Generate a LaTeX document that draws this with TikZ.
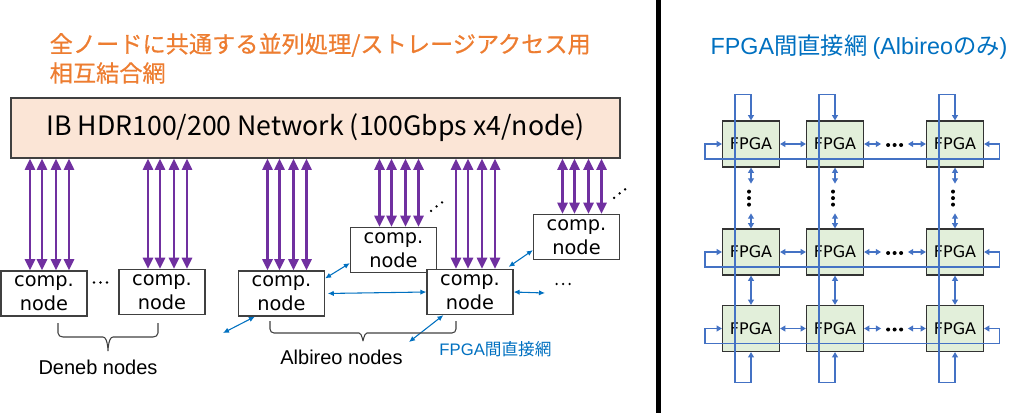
\documentclass[tikz,border=0pt]{standalone}
\usepackage{fontspec}
\setmainfont{Noto Sans CJK JP}
\newfontfamily\arialfont{Liberation Sans}
\newfontfamily\compfont{DejaVu Sans}
\newfontfamily\titlefont{Noto Sans CJK JP}[FakeBold=0.6]
\usetikzlibrary{arrows.meta, calc}
\definecolor{ibpurple}{HTML}{7030A0}
\definecolor{ibfill}{HTML}{FBE5D6}
\definecolor{titleorange}{HTML}{ED7D31}
\definecolor{fpgablue}{HTML}{0070C0}
\definecolor{torusblue}{HTML}{4472C4}
\definecolor{fpgafill}{HTML}{E2EFDA}
\definecolor{boxgray}{HTML}{404040}
\tikzstyle{ibbox} = [draw=boxgray, fill=ibfill, line width=0.9pt, minimum width=456.75pt, minimum height=45pt, inner sep=0pt, font=\fontsize{20}{24}\selectfont]
\tikzstyle{comp} = [draw=boxgray, fill=white, line width=0.9pt, minimum width=64.5pt, minimum height=33.75pt, inner sep=0pt, align=center, font=\compfont\fontsize{14.5}{18}\selectfont]
\tikzstyle{fpga} = [draw=black!80, fill=fpgafill, line width=0.9pt, minimum width=42.75pt, minimum height=34.5pt, inner sep=0pt, font=\compfont\fontsize{12}{14}\selectfont]
\tikzstyle{ibarrow} = [ibpurple, line width=2.2pt, {Triangle[length=8.5pt,width=7.5pt]}-{Triangle[length=8.5pt,width=7.5pt]}]
\tikzstyle{link} = [fpgablue, line width=0.8pt, {Latex[length=4.5pt,width=4pt]}-{Latex[length=4.5pt,width=4pt]}]
\tikzstyle{torus} = [torusblue, line width=0.9pt, {Triangle[length=4pt,width=4.5pt]}-{Triangle[length=4pt,width=4.5pt]}]
\tikzstyle{brace} = [boxgray, line width=0.8pt]

\begin{document}
\begin{tikzpicture}[x=0.75pt, y=-0.75pt]
        \useasboundingbox (0,0) rectangle (1024,419);

        % left: IB network
        \node at (45,45) [anchor=west, titleorange, font=\titlefont\fontsize{17.4}{21}\selectfont](title1) {全ノードに共通する並列処理/ストレージアクセス用};
        \node at (45,73) [anchor=west, titleorange, font=\titlefont\fontsize{17.4}{21}\selectfont](title2) {相互結合網};
        \node at (315.5,128) [ibbox](ib) {IB HDR100/200 Network (100Gbps x4/node)};

        \node at (44,293.5) [comp](d1) {comp.\\node};
        \node at (162,292) [comp](d2) {comp.\\node};
        \node at (281.5,293.5) [comp](a1) {comp.\\node};
        \node at (393.5,250) [comp](a2) {comp.\\node};
        \node at (470,292) [comp](a3) {comp.\\node};
        \node at (576.5,237) [comp](a4) {comp.\\node};

        \foreach \n in {d1,d2,a1,a2,a3,a4}
            \foreach \dx in {-14,-2,12,25} {
                \coordinate (t) at ($(\n.north)+(\dx,0)$);
                \draw[ibarrow] (t |- ib.south) -- (t);
            }

        % dots
        \foreach \k in {0,1,2}
            \fill (94+6.5*\k,282.5) circle (1.3);
        \foreach \n in {a2,a4}
            \foreach \px/\py in {-6/-16,-0.5/-20.5,5/-24.5}
                \fill ($(\n.north east)+(\px,\py)$) circle (1.3);
        \foreach \k in {0,1,2}
            \fill ($(a3.east)+(43+6.5*\k,-8)$) circle (1.3);

        % FPGA links
        \coordinate (l1) at (223,333);
        \coordinate (l2) at (409,342);
        \coordinate (l3) at (545,293);
        \draw[link] (l1) -- ($(a1.south west)+(17,0)$);
        \draw[link] ($(a1.north east)+(0,8)$) -- ($(a2.south west)+(0,-10)$);
        \draw[link, shorten <=2pt] (a1.east) -- (a3.west);
        \draw[link] (l2) -- ($(a3.south west)+(17,0)$);
        \draw[link] ($(a3.north east)+(-5,-2)$) -- ($(a4.south west)+(0,-10)$);
        \draw[link] (a3.east) -- (l3);

        % braces
        \draw[brace] (58,323) -- (58,333) to[out=-90,in=180] (63,337) -- (103,337) to[out=0,in=-90] (108,350) to[out=-90,in=180] (113,337) -- (153,337) to[out=0,in=-90] (158,333) -- (158,323);
        \draw[brace] (270,321) -- (270,329) to[out=-90,in=180] (274,333) -- (359,333) to[out=0,in=-90] (363,340) to[out=-90,in=180] (367,333) -- (452,333) to[out=0,in=-90] (456,329) -- (456,321);
        \node at (98,367) [font=\arialfont\fontsize{15}{18}\selectfont](deneb) {Deneb nodes};
        \node at (341.5,357) [font=\arialfont\fontsize{15}{18}\selectfont](albireo) {Albireo nodes};
        \node at (495.5,349) [fpgablue, font=\fontsize{12.5}{15}\selectfont](fpganet) {{\arialfont FPGA}間直接網};

        % separator
        \draw[line width=3.75pt] (658.5,0) -- (658.5,413);

        % right: FPGA torus
        \node at (859,47) [fpgablue, font=\fontsize{17.5}{21}\selectfont](title3) {{\arialfont FPGA}間直接網 {\arialfont (Albireo}のみ{\arialfont )}};
        \foreach \r/\y in {1/144,2/252,3/328.5}
            \foreach \c/\x in {1/751,2/835,3/955}
                \node at (\x,\y) [fpga](f\r\c) {FPGA};

        \foreach \r in {1,2,3} {
            \draw[torus] (f\r1.east) -- (f\r2.west);
            \draw[torus] (f\r2.east) -- ++(17,0);
            \draw[torus] (f\r3.west) -- ++(-18,0);
            \foreach \k in {0,1,2}
                \fill ($(f\r2.east)+(24+6.5*\k,1)$) circle (2);
            \draw[torus] (f\r1.west) -- ++(-17,0) -- ++(0,15) -- ($(f\r3.east)+(15,15)$) -- ++(0,-15) -- (f\r3.east);
        }
        \foreach \c in {1,2,3} {
            \draw[torus] (f1\c.south) -- ++(0,16);
            \draw[torus] (f2\c.north) -- ++(0,-15);
            \foreach \k in {0,1,2}
                \fill ($(f1\c.south)+(-2,24+6.5*\k)$) circle (2);
            \draw[torus] (f2\c.south) -- (f3\c.north);
            \draw[torus] (f1\c.north) -- ++(0,-26) -- ++(-16,0) -- ($(f3\c.south)+(-16,30)$) -- ++(16,0) -- (f3\c.south);
        }

    \end{tikzpicture}
\end{document}
